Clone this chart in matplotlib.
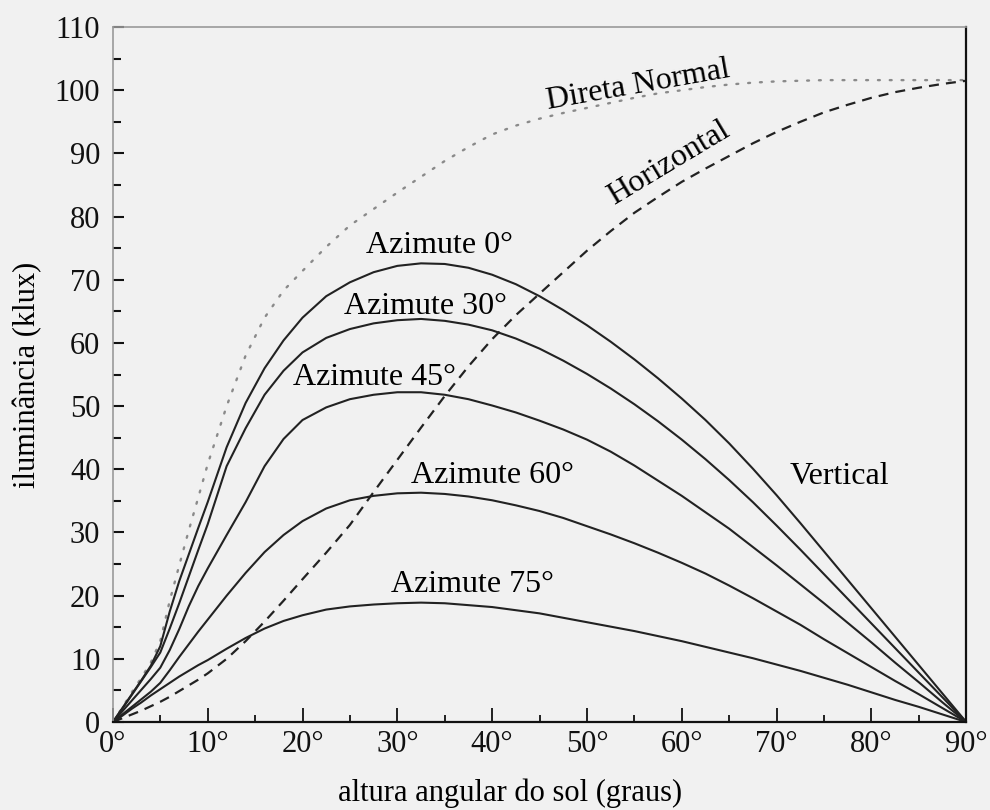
import matplotlib
matplotlib.use("Agg")
import matplotlib.pyplot as plt
from matplotlib.ticker import MultipleLocator

# altura angular do sol (graus)
altura = [0, 1, 2, 3, 4, 5, 6, 7, 8, 9, 10, 12, 14, 16, 18, 20,
          22.5, 25, 27.5, 30, 32.5, 35, 37.5, 40, 42.5, 45, 47.5, 50,
          52.5, 55, 57.5, 60, 62.5, 65, 67.5, 70, 72.5, 75, 77.5, 80,
          82.5, 85, 87.5, 90]

# iluminancia (klux)
direta_normal = [0, 2.3, 4.7, 7, 9.4, 12.8, 19.2, 24.8, 30.3, 35.5, 40.8,
                 50, 58, 64, 68.3, 71.4,
                 75.2, 78.6, 81.2, 83.8, 86.3, 88.8, 91, 93, 94.4, 95.5,
                 96.4, 97.2, 98, 98.8, 99.5, 100, 100.5, 100.9, 101.2,
                 101.4, 101.5, 101.6, 101.6, 101.6, 101.6, 101.6, 101.6,
                 101.6]
horizontal = [0, 0.6, 1.2, 1.8, 2.5, 3.2, 4, 4.9, 5.8, 6.7, 7.7,
              10, 12.8, 15.9, 19.2, 22.6,
              26.8, 31.2, 36.4, 41.5, 46.6, 51.6, 56.3, 60.6, 64.4, 67.8,
              71.2, 74.6, 77.7, 80.6, 83.1, 85.5, 87.6, 89.6, 91.6, 93.4,
              95, 96.5, 97.7, 98.8, 99.7, 100.4, 101, 101.5]
az0 = [0, 2.2, 4.4, 6.6, 8.9, 12, 17.5, 22.3, 26.5, 30.7, 34.8,
       43.5, 50.5, 56, 60.4, 64,
       67.4, 69.6, 71.2, 72.2, 72.6, 72.5, 71.9, 70.8, 69.3, 67.4, 65.2,
       62.8, 60.2, 57.4, 54.4, 51.2, 47.8, 44.1, 40.1, 35.9, 31.5, 27,
       22.5, 18, 13.5, 9, 4.5, 0]
az30 = [0, 2.1, 4.3, 6.5, 8.7, 11, 14.8, 18.8, 23, 27.2, 31.3,
        40.5, 46.5, 51.8, 55.6, 58.5,
        60.8, 62.2, 63.1, 63.6, 63.8, 63.5, 62.9, 62, 60.7, 59.1, 57.2,
        55.1, 52.8, 50.3, 47.6, 44.7, 41.6, 38.3, 34.8, 31.1, 27.3, 23.4,
        19.5, 15.6, 11.7, 7.8, 3.9, 0]
az45 = [0, 1.7, 3.4, 5.1, 6.8, 8.6, 11.4, 14.7, 18.3, 21.5, 24.3,
        29.6, 34.8, 40.5, 44.8, 47.8,
        49.8, 51.1, 51.8, 52.2, 52.2, 51.8, 51.1, 50.1, 49, 47.7, 46.3,
        44.7, 42.8, 40.6, 38.2, 35.8, 33.2, 30.6, 27.7, 24.8, 21.8, 18.8,
        15.7, 12.6, 9.4, 6.3, 3.1, 0]
az60 = [0, 1.2, 2.4, 3.6, 4.8, 6.2, 8.2, 10.3, 12.3, 14.3, 16.2,
        20, 23.6, 26.9, 29.6, 31.8,
        33.8, 35.1, 35.8, 36.2, 36.3, 36.1, 35.7, 35.1, 34.3, 33.4, 32.3,
        31, 29.7, 28.3, 26.8, 25.2, 23.5, 21.6, 19.6, 17.5, 15.4, 13.1,
        10.9, 8.7, 6.5, 4.4, 2.2, 0]
az75 = [0, 1, 2.1, 3.1, 4.2, 5.2, 6.2, 7.2, 8.1, 9, 9.8,
        11.6, 13.3, 14.8, 16, 16.9,
        17.8, 18.3, 18.6, 18.8, 18.9, 18.8, 18.5, 18.2, 17.7, 17.2, 16.5,
        15.8, 15.1, 14.4, 13.6, 12.8, 11.9, 11, 10.1, 9.1, 8.1, 7,
        5.9, 4.7, 3.5, 2.4, 1.2, 0]

azimutes = [az0, az30, az45, az60, az75]

plt.rcParams['font.family'] = ['Liberation Serif', 'DejaVu Serif']

bg = '#f1f1f1'
fig = plt.figure(figsize=(9.9, 8.1), dpi=100, facecolor=bg)
ax = fig.add_axes([0.114, 0.1086, 0.862, 0.858], facecolor=bg)

ax.plot(altura, direta_normal, color='#8a8a8a', linewidth=1.7,
        linestyle=(0, (0.8, 4.2)), dash_capstyle='round')
ax.plot(altura, horizontal, color='#222222', linewidth=1.6,
        linestyle=(0, (4.5, 3.2)))
for serie in azimutes:
    ax.plot(altura, serie, color='#222222', linewidth=1.5,
            solid_joinstyle='round')

ax.set_xlim(0, 90)
ax.set_ylim(0, 110)
ax.xaxis.set_minor_locator(MultipleLocator(5))
ax.yaxis.set_major_locator(MultipleLocator(10))
ax.yaxis.set_minor_locator(MultipleLocator(5))
ax.set_xticks(range(0, 91, 10))
ax.set_xticklabels(['%d°' % a for a in range(0, 91, 10)])

ax.tick_params(which='both', direction='in', top=False, right=False,
               labelsize=22, colors='#111111')
ax.tick_params(axis='x', which='major', length=10, width=1.3, pad=6)
ax.tick_params(axis='x', which='minor', length=5, width=1.3)
ax.tick_params(axis='y', which='major', length=8, width=1.5, pad=9)
ax.tick_params(axis='y', which='minor', length=6, width=1.5)

for s in ['left', 'top']:
    ax.spines[s].set_color('#9a9a9a')
    ax.spines[s].set_linewidth(1.2)
for s in ['right', 'bottom']:
    ax.spines[s].set_color('#111111')
    ax.spines[s].set_linewidth(1.6)

fs = 23
ax.text(55.4, 100.8, 'Direta Normal', fontsize=fs, rotation=10,
        ha='center', va='center')
ax.text(58.6, 88.4, 'Horizontal', fontsize=fs, rotation=31,
        ha='center', va='center')
ax.text(34.5, 75.5, 'Azimute 0°', fontsize=fs, ha='center', va='center')
ax.text(33, 65.7, 'Azimute 30°', fontsize=fs, ha='center', va='center')
ax.text(27.6, 54.6, 'Azimute 45°', fontsize=fs, ha='center', va='center')
ax.text(40, 39.1, 'Azimute 60°', fontsize=fs, ha='center', va='center')
ax.text(37.9, 21.7, 'Azimute 75°', fontsize=fs, ha='center', va='center')
ax.text(76.6, 38.9, 'Vertical', fontsize=fs, ha='center', va='center')

fig.text(510 / 990, 1 - 793 / 810, 'altura angular do sol (graus)',
         fontsize=22, ha='center', va='center')
fig.text(28 / 990, 1 - 375 / 810, 'iluminância (klux)', fontsize=22,
         rotation=90, ha='center', va='center')

fig.savefig('out.png', dpi=100, facecolor=bg)
